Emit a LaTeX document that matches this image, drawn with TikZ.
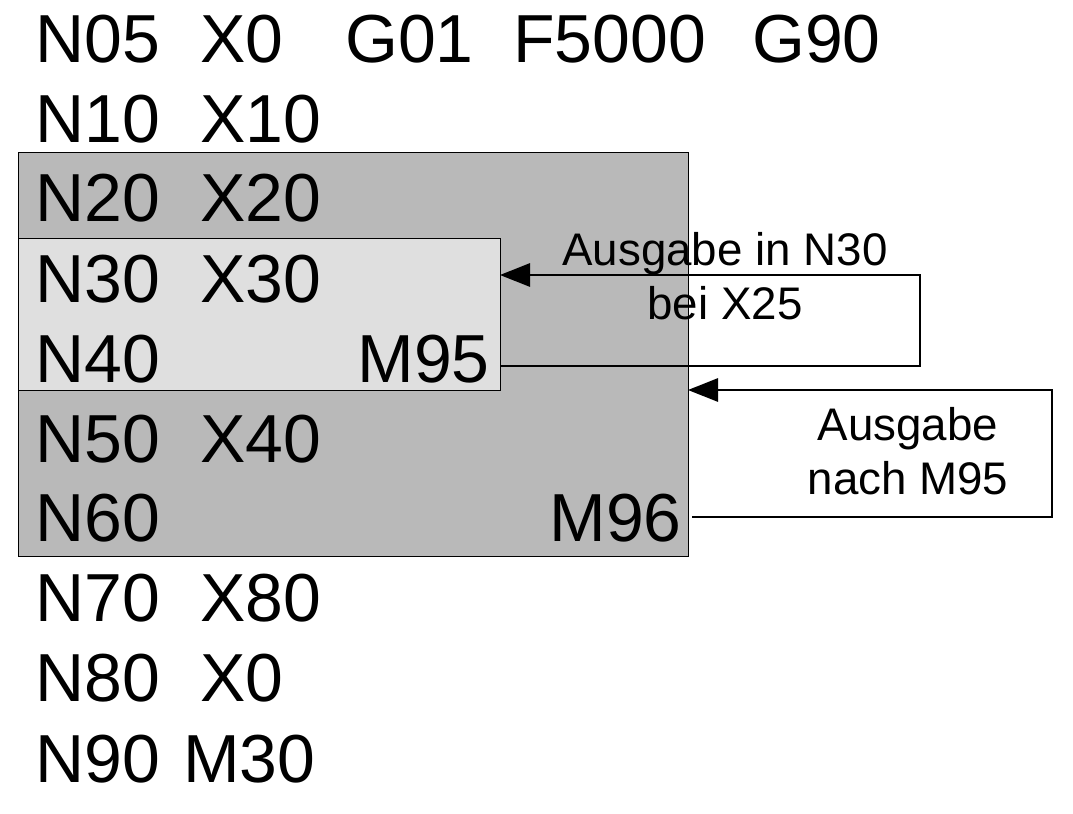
\documentclass[tikz,border=0pt]{standalone}
\usepackage{fontspec}
\setmainfont{Liberation Sans}
\usetikzlibrary{arrows.meta}
\begin{document}
\begin{tikzpicture}[x=0.03cm,y=-0.03cm]
    \useasboundingbox (0,0) rectangle (1073,813);
    \tikzset{code/.style={anchor=base west,inner sep=0pt,font=\fontsize{58}{58}\selectfont},
      note/.style={align=center,inner sep=0pt,font=\fontsize{39}{46}\selectfont},
      link/.style={draw=black,line width=1.6pt,-{Triangle[length=0.9cm,width=0.7cm]}}}
    % blocks
    \fill[gray!55] (18,152) rectangle (688,556);
    \draw[line width=0.6pt] (18,152) rectangle (688,556);
    \filldraw[fill=gray!25,line width=0.6pt] (18,238) rectangle (500,390);
    % program lines
    \node[code] (n05) at (35,62) {N05};
    \node[code] at (200,62) {X0};
    \node[code] at (345,62) {G01};
    \node[code] at (513,62) {F5000};
    \node[code] at (752,62) {G90};
    \node[code] (n10) at (35,142) {N10};
    \node[code] at (200,142) {X10};
    \node[code] (n20) at (35,221) {N20};
    \node[code] at (200,221) {X20};
    \node[code] (n30) at (35,302) {N30};
    \node[code] at (200,302) {X30};
    \node[code] (n40) at (35,382) {N40};
    \node[code,anchor=base east] (m95) at (490,382) {M95};
    \node[code] (n50) at (35,462) {N50};
    \node[code] at (200,462) {X40};
    \node[code] (n60) at (35,541) {N60};
    \node[code,anchor=base east] (m96) at (682,541) {M96};
    \node[code] (n70) at (35,621) {N70};
    \node[code] at (200,621) {X80};
    \node[code] (n80) at (35,701) {N80};
    \node[code] at (200,701) {X0};
    \node[code] (n90) at (35,782) {N90};
    \node[code] at (183,782) {M30};
    % notes
    \node[note] (out1) at (725,276) {Ausgabe in N30\\bei X25};
    \node[note] (out2) at (908,451) {Ausgabe\\nach M95};
    % arrows
    \coordinate (t1) at (500,275);
    \coordinate (t2) at (688,390);
    \draw[link] ([xshift=0.3cm]m95.east |- 0,366) -- (920,366) -- (920,275) -- (t1);
    \draw[link] ([xshift=0.3cm]m96.east |- 0,517) -- (1052,517) -- (1052,390) -- (t2);
\end{tikzpicture}
\end{document}
